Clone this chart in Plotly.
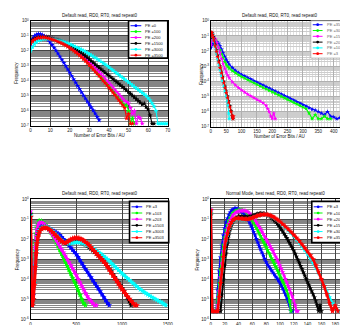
import plotly.graph_objects as go

W, H = 348, 325
FONT = "Liberation Sans, Arial, sans-serif"
COLORS = ["#0000ff", "#00ff00", "#ff00ff", "#000000", "#00ffff", "#ff0000"]

# ---------------- Panel 1 : x = 0,1,2,... error bits ; values = log10(frequency)
p1_labels = ["PE =0", "PE =100", "PE =200", "PE =1500", "PE =3000", "PE =3500"]
p1_pe0 = [-1.55, -1.2, -1.0, -0.92, -0.87, -0.88, -0.93, -1.02, -1.14, -1.28, -1.44, -1.61, -1.79, -1.98,
          -2.18, -2.38, -2.59, -2.8, -3.02, -3.24, -3.46, -3.68, -3.9, -4.12, -4.34, -4.56, -4.77, -4.98,
          -5.18, -5.38, -5.57, -5.77, -5.97, -6.18, -6.4, -6.62]
p1_pe100 = [-1.45, -1.32, -1.22, -1.16, -1.12, -1.1, -1.09, -1.09, -1.1, -1.13, -1.17,
            -1.21, -1.25, -1.3, -1.35, -1.41, -1.47, -1.53, -1.6, -1.68, -1.76,
            -1.85, -1.95, -2.05, -2.15, -2.26, -2.37, -2.49, -2.61, -2.74, -2.88,
            -3.02, -3.16, -3.3, -3.45, -3.6, -3.75, -3.9, -4.05, -4.2, -4.35,
            -4.5, -4.66, -4.82, -4.98, -5.15, -5.32, -5.5, -5.7, -5.6, -6.0,
            -6.85, -6.5, -6.85]
p1_pe200 = [-1.42, -1.3, -1.2, -1.14, -1.1, -1.08, -1.07, -1.07, -1.08, -1.11, -1.15,
            -1.19, -1.23, -1.28, -1.33, -1.38, -1.44, -1.5, -1.57, -1.64, -1.72,
            -1.81, -1.9, -2.0, -2.1, -2.2, -2.31, -2.42, -2.53, -2.64, -2.75,
            -2.88, -3.01, -3.14, -3.27, -3.4, -3.54, -3.68, -3.83, -3.98, -4.13,
            -4.28, -4.43, -4.58, -4.73, -4.88, -5.03, -5.18, -5.33, -5.4, -5.5,
            -5.8, -6.2, -6.0, -6.85, -6.4, -6.5, -6.85]
p1_pe1500 = [-1.4, -1.28, -1.18, -1.13, -1.1, -1.08, -1.07, -1.07, -1.08, -1.1, -1.13,
             -1.17, -1.21, -1.25, -1.29, -1.34, -1.39, -1.44, -1.5, -1.56, -1.63,
             -1.71, -1.79, -1.88, -1.97, -2.06, -2.15, -2.25, -2.35, -2.46, -2.57,
             -2.68, -2.79, -2.9, -3.01, -3.12, -3.23, -3.34, -3.45, -3.55, -3.65,
             -3.75, -3.86, -3.97, -4.08, -4.19, -4.3, -4.41, -4.52, -4.63, -4.74,
             -4.86, -4.98, -5.1, -5.22, -5.34, -5.46, -5.58, -5.5, -5.75, -5.9,
             -6.3, -6.85, -6.85]
p1_pe3000 = [-2.0, -1.75, -1.55, -1.42, -1.33, -1.27, -1.23, -1.2, -1.19, -1.19, -1.2,
             -1.22, -1.24, -1.27, -1.3, -1.33, -1.37, -1.41, -1.45, -1.5, -1.55,
             -1.61, -1.67, -1.73, -1.79, -1.85, -1.92, -1.99, -2.06, -2.14, -2.22,
             -2.3, -2.38, -2.46, -2.55, -2.64, -2.73, -2.82, -2.91, -3.0, -3.1,
             -3.2, -3.3, -3.4, -3.5, -3.6, -3.7, -3.8, -3.9, -4.0, -4.1,
             -4.2, -4.3, -4.4, -4.5, -4.6, -4.7, -4.8, -4.9, -5.0, -5.15,
             -5.3, -5.5, -5.7, -6.0, -6.85, -6.85, -6.85, -6.85, -6.85, -6.85]
p1_pe3500 = [-1.5, -1.35, -1.25, -1.18, -1.14, -1.12, -1.11, -1.11, -1.13, -1.16, -1.2,
             -1.24, -1.28, -1.33, -1.38, -1.44, -1.5, -1.57, -1.64, -1.72, -1.8,
             -1.9, -2.0, -2.1, -2.2, -2.31, -2.42, -2.54, -2.67, -2.81, -2.95,
             -3.09, -3.23, -3.38, -3.53, -3.68, -3.83, -3.98, -4.13, -4.29, -4.45,
             -4.61, -4.77, -4.93, -5.1, -5.27, -5.44, -5.62, -5.8, -6.5, -6.2,
             -6.85, -6.85]
p1_series = [p1_pe0, p1_pe100, p1_pe200, p1_pe1500, p1_pe3000, p1_pe3500]

# ---------------- Panel 2
p2_labels = ["PE =3500", "PE =3000", "PE =1500", "PE =203", "PE =103", "PE =3"]
p2_x_pe3500 = list(range(0, 61, 5)) + list(range(70, 421, 10))
p2_pe3500 = [-1.8, -1.55, -1.42, -1.38, -1.38, -1.48, -1.65, -1.88, -2.12, -2.35, -2.55, -2.72, -2.88,
             -3.1, -3.28, -3.42, -3.55, -3.65, -3.75, -3.85, -3.95, -4.05, -4.15,
             -4.25, -4.35, -4.45, -4.55, -4.65, -4.75, -4.85, -4.95, -5.05, -5.15,
             -5.25, -5.35, -5.45, -5.55, -5.65, -5.75, -5.85, -5.9, -6.0, -6.1,
             -6.2, -6.0, -6.3, -6.35, -6.47, -6.4]
p2_x_pe3000 = list(range(0, 61, 5)) + list(range(70, 391, 10))
p2_pe3000 = [-1.3, -1.15, -1.15, -1.25, -1.45, -1.7, -1.95, -2.2, -2.45, -2.7, -2.88, -3.02, -3.13,
             -3.3, -3.45, -3.58, -3.7, -3.8, -3.9, -4.0, -4.1, -4.2, -4.3,
             -4.4, -4.5, -4.6, -4.7, -4.8, -4.9, -5.0, -5.1, -5.2, -5.3,
             -5.4, -5.5, -5.6, -5.7, -5.8, -6.1, -6.47, -6.2, -6.47, -6.47,
             -6.3, -6.47, -6.47]
p2_x_pe1500 = list(range(0, 61, 5)) + list(range(70, 181, 10)) + list(range(185, 211, 5))
p2_pe1500 = [-1.6, -1.25, -1.1, -1.2, -1.45, -1.75, -2.1, -2.5, -2.85, -3.15, -3.4, -3.6, -3.78,
             -4.05, -4.25, -4.42, -4.58, -4.72, -4.85, -4.97, -5.08, -5.2, -5.3, -5.42, -5.6,
             -5.8, -6.0, -6.3, -6.45, -6.1, -6.47]
p2_x_pe203 = [0, 2, 4, 6, 8] + list(range(10, 71, 4)) + [72]
p2_pe203 = [-1.1, -0.85, -0.8, -0.9, -1.05,
            -1.22, -1.57, -1.92, -2.28, -2.64, -3.0, -3.34, -3.68, -4.01, -4.33, -4.65, -4.97, -5.29,
            -5.61, -5.95, -6.3, -6.47]
p2_x_pe103 = [0, 2, 4, 6, 8] + list(range(10, 51, 4)) + [54, 56, 58, 60]
p2_pe103 = [-1.0, -0.8, -0.85, -1.0, -1.17,
            -1.35, -1.73, -2.11, -2.49, -2.87, -3.25, -3.61, -3.97, -4.33, -4.67, -5.0,
            -5.35, -5.6, -6.1, -6.47]
p2_x_pe3 = [0, 2, 4, 6, 8] + list(range(10, 71, 4)) + [72, 74]
p2_pe3 = [-1.0, -0.75, -0.8, -0.95, -1.12,
          -1.3, -1.66, -2.02, -2.38, -2.74, -3.1, -3.44, -3.78, -4.11, -4.43, -4.75, -5.07, -5.39,
          -5.7, -6.0, -6.3, -6.47, -6.3]
p2_series = [(p2_x_pe3500, p2_pe3500), (p2_x_pe3000, p2_pe3000), (p2_x_pe1500, p2_pe1500),
             (p2_x_pe203, p2_pe203), (p2_x_pe103, p2_pe103), (p2_x_pe3, p2_pe3)]

# ---------------- Panel 3
p34_labels = ["PE =3", "PE =103", "PE =203", "PE =1503", "PE =3003", "PE =3503"]
p3_head_x = [0, 10, 20, 30, 40, 50, 60, 70, 80, 90, 100]
p3_x_pe3 = p3_head_x + list(range(120, 861, 20))
p3_pe3 = [-0.9, -5.3, -5.3, -4.8, -3.6, -2.7, -2.1, -1.75, -1.5, -1.35, -1.27,
          -1.23, -1.25, -1.3, -1.37, -1.44, -1.5, -1.55, -1.6, -1.65, -1.7,
          -1.78, -1.88, -1.98, -2.1, -2.2, -2.3, -2.4, -2.52, -2.64, -2.75,
          -2.88, -3.03, -3.18, -3.33, -3.48, -3.62, -3.76, -3.9, -4.04, -4.18,
          -4.32, -4.46, -4.6, -4.75, -4.9, -5.05, -5.2, -5.3]
p3_x_pe103 = p3_head_x + list(range(120, 601, 20))
p3_pe103 = [-0.7, -5.3, -5.3, -4.2, -3.0, -2.2, -1.7, -1.4, -1.2, -1.1, -1.07,
            -1.08, -1.15, -1.25, -1.36, -1.5, -1.65, -1.8, -1.97, -2.15, -2.34,
            -2.53, -2.73, -2.93, -3.13, -3.33, -3.53, -3.73, -3.93, -4.13, -4.33,
            -4.55, -4.78, -5.0, -5.2, -5.3]
p3_x_pe203 = p3_head_x + list(range(120, 721, 20))
p3_pe203 = [-0.6, -5.3, -5.3, -4.5, -3.3, -2.4, -1.85, -1.5, -1.3, -1.2, -1.16,
            -1.15, -1.2, -1.28, -1.38, -1.5, -1.62, -1.76, -1.9, -2.05, -2.2,
            -2.35, -2.5, -2.66, -2.82, -2.98, -3.14, -3.3, -3.46, -3.62, -3.8,
            -3.98, -4.16, -4.34, -4.52, -4.7, -4.85, -5.0, -5.1, -5.2, -5.3, -5.3]
p3_x_pe1503 = p3_head_x + list(range(120, 1101, 20))
p3_pe1503 = [-0.75, -5.3, -5.3, -5.0, -4.2, -3.3, -2.6, -2.1, -1.8, -1.62, -1.5,
             -1.42, -1.38, -1.38, -1.41, -1.46, -1.53, -1.61, -1.7, -1.8, -1.9,
             -2.0, -2.08, -2.15, -2.2, -2.22, -2.21, -2.18, -2.15, -2.13, -2.12,
             -2.12, -2.14, -2.17, -2.21, -2.26, -2.32, -2.39, -2.47, -2.55, -2.63,
             -2.72, -2.81, -2.9, -3.0, -3.1, -3.22, -3.34, -3.47, -3.6, -3.74,
             -3.88, -4.02, -4.16, -4.3, -4.45, -4.6, -4.75, -4.9, -5.1, -5.3]
p3_x_pe3003 = p3_head_x + list(range(120, 1481, 20))
p3_pe3003 = [-0.8, -5.3, -5.3, -5.0, -4.2, -3.3, -2.6, -2.15, -1.85, -1.65, -1.52,
             -1.42, -1.37, -1.36, -1.38, -1.43, -1.5, -1.58, -1.67, -1.77, -1.87,
             -1.97, -2.06, -2.13, -2.18, -2.2, -2.2, -2.19, -2.17, -2.15, -2.14,
             -2.14, -2.15, -2.17, -2.2, -2.24, -2.29, -2.34, -2.4, -2.46, -2.52,
             -2.58, -2.64, -2.7, -2.77, -2.84, -2.92, -3.0, -3.09, -3.18, -3.27,
             -3.36, -3.45, -3.54, -3.63, -3.72, -3.8, -3.88, -3.96, -4.04, -4.12,
             -4.2, -4.28, -4.36, -4.44, -4.52, -4.58, -4.64, -4.7, -4.76, -4.82,
             -4.88, -4.93, -4.98, -5.03, -5.08, -5.13, -5.18, -5.25, -5.3]
p3_x_pe3503 = p3_head_x + list(range(120, 1161, 20))
p3_pe3503 = [-0.87, -5.3, -5.3, -5.0, -4.3, -3.4, -2.7, -2.2, -1.9, -1.7, -1.58,
             -1.47, -1.42, -1.41, -1.43, -1.48, -1.55, -1.63, -1.72, -1.82, -1.92,
             -2.02, -2.1, -2.16, -2.18, -2.15, -2.08, -2.01, -1.96, -1.93, -1.92,
             -1.93, -1.96, -2.0, -2.06, -2.13, -2.21, -2.3, -2.4, -2.5, -2.6,
             -2.7, -2.8, -2.9, -3.0, -3.1, -3.22, -3.36, -3.5, -3.65, -3.8,
             -3.94, -4.08, -4.22, -4.36, -4.5, -4.62, -4.74, -4.86, -4.98, -5.1,
             -5.2, -5.3, -5.3]
p3_series = [(p3_x_pe3, p3_pe3), (p3_x_pe103, p3_pe103), (p3_x_pe203, p3_pe203),
             (p3_x_pe1503, p3_pe1503), (p3_x_pe3003, p3_pe3003), (p3_x_pe3503, p3_pe3503)]

# ---------------- Panel 4
p4_x_pe3 = list(range(0, 119, 2))
p4_pe3 = [-0.6, -5.6, -5.6, -5.6, -5.6, -4.5, -3.6, -2.9, -2.3, -1.8,
          -1.45, -1.15, -0.95, -0.78, -0.65, -0.55, -0.5, -0.46, -0.45, -0.46,
          -0.5, -0.55, -0.6, -0.66, -0.73, -0.8, -0.9, -1.02, -1.15, -1.3,
          -1.45, -1.62, -1.8, -1.98, -2.16, -2.34, -2.5, -2.66, -2.82, -2.98,
          -3.14, -3.26, -3.36, -3.46, -3.56, -3.66, -3.76, -3.86, -3.96, -4.06,
          -4.16, -4.3, -4.45, -4.6, -4.75, -4.9, -5.1, -5.3, -5.6, -5.6]
p4_x_pe103 = list(range(0, 117, 2))
p4_pe103 = [-0.7, -5.6, -5.6, -5.6, -5.6, -5.0, -4.2, -3.5, -2.8, -2.3,
            -1.9, -1.55, -1.28, -1.06, -0.9, -0.78, -0.69, -0.62, -0.58, -0.55,
            -0.53, -0.52, -0.52, -0.53, -0.56, -0.6, -0.66, -0.74, -0.83, -0.93,
            -1.03, -1.15, -1.28, -1.41, -1.55, -1.69, -1.83, -1.97, -2.11, -2.25,
            -2.39, -2.53, -2.67, -2.81, -2.95, -3.09, -3.23, -3.37, -3.51, -3.65,
            -3.8, -3.95, -4.1, -4.25, -4.4, -4.57, -4.8, -5.1, -5.6]
p4_x_pe203 = list(range(0, 127, 2))
p4_pe203 = [-0.5, -5.6, -5.6, -5.6, -5.6, -5.3, -4.6, -3.9, -3.2, -2.6,
            -2.1, -1.75, -1.45, -1.22, -1.04, -0.9, -0.8, -0.72, -0.66, -0.62,
            -0.59, -0.57, -0.56, -0.56, -0.56, -0.57, -0.6, -0.64, -0.7, -0.77,
            -0.85, -0.94, -1.04, -1.15, -1.26, -1.37, -1.49, -1.61, -1.73, -1.85,
            -1.98, -2.1, -2.22, -2.34, -2.46, -2.58, -2.72, -2.86, -3.0, -3.15,
            -3.3, -3.47, -3.64, -3.81, -3.98, -4.15, -4.32, -4.5, -4.68, -4.86,
            -5.05, -5.3, -5.6, -5.6]
p4_x_pe1503 = list(range(0, 161, 2))
p4_pe1503 = [-0.8, -5.6, -5.6, -5.6, -5.6, -5.6, -5.6, -5.6, -4.8, -4.0,
             -3.3, -2.7, -2.2, -1.8, -1.5, -1.28, -1.12, -1.0, -0.93, -0.88,
             -0.86, -0.85, -0.85, -0.86, -0.87, -0.88, -0.88, -0.87, -0.86, -0.84,
             -0.82, -0.8, -0.77, -0.74, -0.72, -0.7, -0.69, -0.69, -0.7, -0.72,
             -0.75, -0.78, -0.82, -0.87, -0.93, -0.99, -1.06, -1.13, -1.21, -1.3,
             -1.4, -1.5, -1.6, -1.71, -1.82, -1.93, -2.05, -2.17, -2.3, -2.43,
             -2.56, -2.71, -2.86, -3.01, -3.17, -3.33, -3.49, -3.65, -3.82, -3.99,
             -4.15, -4.3, -4.45, -4.6, -4.75, -4.9, -5.1, -5.3, -5.6, -5.3,
             -5.6]
p4_x_pe3003 = list(range(0, 101, 2)) + list(range(104, 189, 4))
p4_pe3003 = [-0.7, -5.6, -5.6, -5.6, -5.6, -5.6, -5.0, -4.3, -3.6, -3.0,
             -2.5, -2.1, -1.78, -1.52, -1.32, -1.18, -1.08, -1.02, -0.98, -0.97,
             -0.97, -0.98, -0.99, -1.0, -1.01, -1.01, -1.0, -0.99, -0.97, -0.95,
             -0.93, -0.9, -0.87, -0.84, -0.82, -0.8, -0.78, -0.77, -0.76, -0.76,
             -0.77, -0.78, -0.8, -0.82, -0.85, -0.89, -0.93, -0.98, -1.03, -1.08,
             -1.14,
             -1.27, -1.4, -1.54, -1.69, -1.84, -2.0, -2.17, -2.35, -2.54, -2.74,
             -2.95, -3.18, -3.43, -3.7, -4.0, -4.3, -4.6, -4.9, -5.2, -5.3,
             -5.6, -5.6]
p4_x_pe3503 = list(range(0, 101, 2)) + list(range(104, 185, 4))
p4_pe3503 = [-0.54, -5.6, -5.6, -5.6, -5.6, -5.6, -4.9, -4.2, -3.5, -2.9,
             -2.4, -2.0, -1.7, -1.45, -1.27, -1.13, -1.04, -0.98, -0.95, -0.94,
             -0.94, -0.95, -0.96, -0.97, -0.98, -0.99, -0.99, -0.98, -0.97, -0.95,
             -0.93, -0.9, -0.87, -0.84, -0.81, -0.79, -0.77, -0.76, -0.75, -0.75,
             -0.75, -0.76, -0.78, -0.8, -0.83, -0.87, -0.91, -0.96, -1.01, -1.06,
             -1.12,
             -1.24, -1.36, -1.49, -1.62, -1.77, -1.92, -2.08, -2.25, -2.42, -2.6,
             -2.8, -3.0, -3.3, -3.62, -3.98, -4.35, -4.75, -5.2, -5.6, -5.3,
             -5.6]
p4_series = [(p4_x_pe3, p4_pe3), (p4_x_pe103, p4_pe103), (p4_x_pe203, p4_pe203),
             (p4_x_pe1503, p4_pe1503), (p4_x_pe3003, p4_pe3003), (p4_x_pe3503, p4_pe3503)]

titles = ["Default read, RD0, RT0, read repeat0", "Default read, RD0, RT0, read repeat0",
          "Default read, RD0, RT0, read repeat0", "Normal Mode, best read, RD0, RT0, read repeat0"]
xlabel = "Number of Error Bits / AU"
ylabel = "Frequency"
ytick_text_7 = ["10<sup>0</sup>", "10<sup>-1</sup>", "10<sup>-2</sup>", "10<sup>-3</sup>",
                "10<sup>-4</sup>", "10<sup>-5</sup>", "10<sup>-6</sup>", "10<sup>-7</sup>"]
ytick_text_6 = ytick_text_7[:7]

# ---------------- build figure
fig = go.Figure()


def px_x(x):
    return x / W


def px_y(y):
    return 1 - y / H


def add_series(xs, es, color, xa, ya, lw, ms):
    assert len(xs) == len(es), (len(xs), len(es))
    fig.add_trace(go.Scatter(
        x=xs, y=[10 ** e for e in es], mode="lines+markers", xaxis=xa, yaxis=ya,
        line=dict(color=color, width=lw),
        marker=dict(symbol="star", size=ms, color=color, line=dict(width=0)),
        showlegend=False, hoverinfo="skip"))


for i, vals in enumerate(p1_series):
    add_series(list(range(len(vals))), vals, COLORS[i], "x", "y", 1.1, 4)
for i, (xs, es) in enumerate(p2_series):
    add_series(xs, es, COLORS[i], "x2", "y2", 1.1, 3.5)
for i, (xs, es) in enumerate(p3_series):
    add_series(xs, es, COLORS[i], "x3", "y3", 3.2 if i == 5 else 2.6, 5 if i == 5 else 4.5)
for i, (xs, es) in enumerate(p4_series):
    add_series(xs, es, COLORS[i], "x4", "y4", 2.6 if i == 5 else 2.0, 4.5 if i == 5 else 4)

panels = [
    dict(xd=(22, 162), yd=(10, 117), xr=[0, 70], dt=10, dec=7, maj="#444444", mnr="#858585"),
    dict(xd=(206, 347), yd=(10, 118), xr=[0, 450], dt=50, dec=7, maj="#b0b0b0", mnr="#cdcdcd"),
    dict(xd=(22, 162), yd=(192, 314), xr=[0, 1500], dt=500, dec=6, maj="#444444", mnr="#858585"),
    dict(xd=(206, 347), yd=(192, 314), xr=[0, 200], dt=20, dec=6, maj="#444444", mnr="#858585"),
]

for k, p in enumerate(panels):
    sfx = "" if k == 0 else str(k + 1)
    tv = [10 ** (-d) for d in range(p["dec"] + 1)]
    tt = ytick_text_7 if p["dec"] == 7 else ytick_text_6
    xa = dict(
        domain=[px_x(p["xd"][0]), px_x(p["xd"][1])], anchor="y" + sfx, range=p["xr"],
        dtick=p["dt"], tick0=0, showgrid=True, gridcolor=p["maj"], gridwidth=1,
        showline=True, linecolor="black", linewidth=1, mirror=True, zeroline=False,
        ticks="", tickfont=dict(size=4.5, family=FONT, color="#222"),
    )
    if k == 1:
        xa["minor"] = dict(showgrid=True, gridcolor="#e0e0e0", dtick=p["dt"] / 5)
    fig.update_layout(**{
        "xaxis" + sfx: xa,
        "yaxis" + sfx: dict(
            domain=[px_y(p["yd"][1]), px_y(p["yd"][0])], anchor="x" + sfx, type="log",
            range=[-p["dec"], 0], tickvals=tv, ticktext=tt, showgrid=True, gridcolor=p["maj"],
            gridwidth=1, showline=True, linecolor="black", linewidth=1, mirror=True,
            zeroline=False, ticks="", tickfont=dict(size=4.5, family=FONT, color="#222"),
            minor=dict(showgrid=True, gridcolor=p["mnr"], gridwidth=1, dtick="D1"),
        ),
    })

annotations = []
shapes = []
centers = [(92, 5), (276, 5), (92, 186), (272, 186)]
for (cx, cy), t in zip(centers, titles):
    annotations.append(dict(x=px_x(cx), y=px_y(cy), xref="paper", yref="paper", text=t,
                            showarrow=False, xanchor="center", yanchor="middle",
                            font=dict(size=4.5, family=FONT, color="#111")))
for cx, cy in [(92, 127), (276, 128), (92, 325), (276, 325)]:
    annotations.append(dict(x=px_x(cx), y=px_y(cy), xref="paper", yref="paper", text=xlabel,
                            showarrow=False, xanchor="center", yanchor="middle",
                            font=dict(size=4.5, family=FONT, color="#111")))
for cx, cy in [(8, 63), (197, 64), (9, 253), (192, 253)]:
    annotations.append(dict(x=px_x(cx), y=px_y(cy), xref="paper", yref="paper", text=ylabel,
                            showarrow=False, textangle=-90, xanchor="center", yanchor="middle",
                            font=dict(size=4.5, family=FONT, color="#111")))

legends = [
    dict(box=(122, 10, 162, 48), y0=15, dy=6.0, lx=(124, 135), tx=136.5, labels=p1_labels,
         border="black", bw=1.6, tc="#111"),
    dict(box=(308, 10, 347, 48), y0=14, dy=5.9, lx=(310, 320), tx=322, labels=p2_labels,
         border="#aaaaaa", bw=0.8, tc="#666"),
    dict(box=(123, 194, 163, 236), y0=199.5, dy=6.3, lx=(125, 136), tx=138, labels=p34_labels,
         border="black", bw=1.6, tc="#111"),
    dict(box=(309, 194, 347, 236), y0=199.5, dy=6.3, lx=(311, 320), tx=322, labels=p34_labels,
         border="black", bw=1.6, tc="#111"),
]
for L in legends:
    x0, y0, x1, y1 = L["box"]
    shapes.append(dict(type="rect", xref="paper", yref="paper", x0=px_x(x0), x1=px_x(x1),
                       y0=px_y(y1), y1=px_y(y0), fillcolor="white",
                       line=dict(color=L["border"], width=L["bw"])))
    for i, lab in enumerate(L["labels"]):
        yy = L["y0"] + i * L["dy"]
        a, b = L["lx"]
        shapes.append(dict(type="line", xref="paper", yref="paper", x0=px_x(a), x1=px_x(b),
                           y0=px_y(yy), y1=px_y(yy), line=dict(color=COLORS[i], width=1)))
        m = (a + b) / 2
        shapes.append(dict(type="circle", xref="paper", yref="paper", x0=px_x(m - 1.4),
                           x1=px_x(m + 1.4), y0=px_y(yy + 1.4), y1=px_y(yy - 1.4),
                           fillcolor=COLORS[i], line=dict(width=0)))
        annotations.append(dict(x=px_x(L["tx"]), y=px_y(yy), xref="paper", yref="paper",
                                text=lab, showarrow=False, xanchor="left", yanchor="middle",
                                font=dict(size=4.0, family=FONT, color=L["tc"])))

fig.update_layout(width=W, height=H, margin=dict(l=0, r=0, t=0, b=0),
                  paper_bgcolor="white", plot_bgcolor="white", showlegend=False,
                  annotations=annotations, shapes=shapes)

fig.write_html("out.html")
